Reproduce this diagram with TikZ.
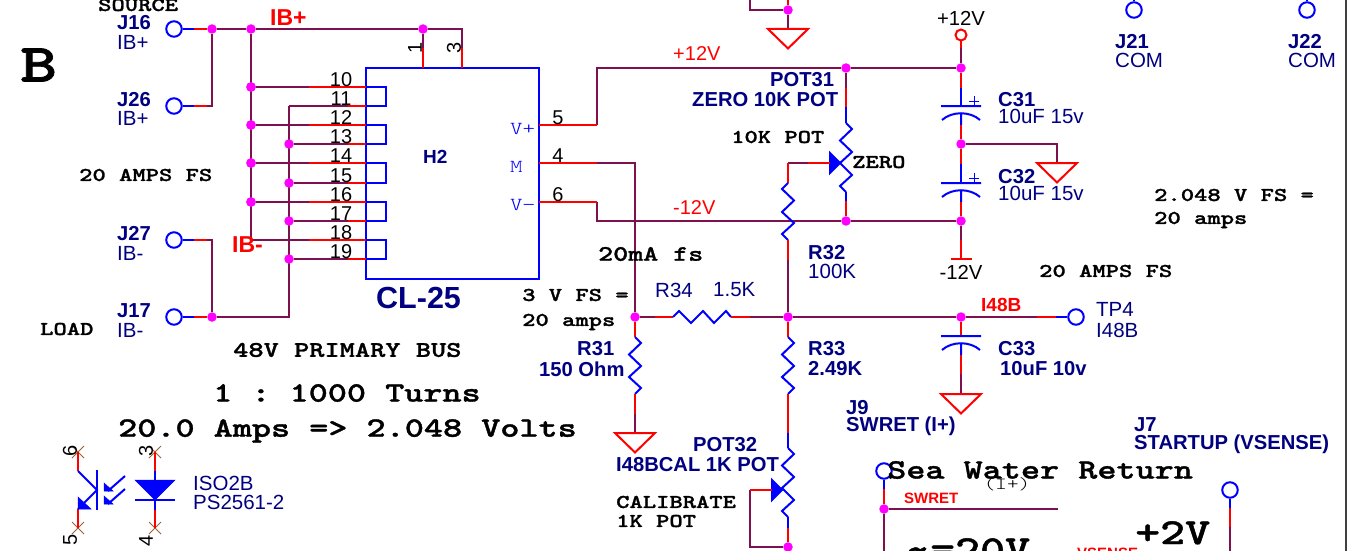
\documentclass[tikz,border=0pt]{standalone}
\usepackage{fontspec}
\setmainfont{Liberation Sans}
\newfontfamily\schmono[Extension=.otf,FakeStretch=1.3,BoldFont=lmmonolt10-bold,BoldFeatures={FakeBold=1.3}]{lmmonolt10-regular}
\usepackage{tikz}
\usetikzlibrary{shapes}

\definecolor{wirecol}{HTML}{7F1050}
\definecolor{pincol}{HTML}{FF0000}
\definecolor{bodycol}{HTML}{0000FF}
\definecolor{labelcol}{HTML}{000080}
\definecolor{dotcol}{HTML}{FF00FF}
\definecolor{xcol}{HTML}{A06030}

% symbol bodies, drawn downward from a named coordinate
\newcommand{\vres}[2]{\draw[body,shift={(#1)},xscale=#2] (0,0) -- ++(6,6) -- ++(-12,11.5) -- ++(12,11.5) -- ++(-12,11) -- ++(12,11) -- ++(-6,6);}
\newcommand{\vpot}[1]{\draw[body,shift={(#1)}] (0,0) -- ++(6,6) -- ++(-12,11.5) -- ++(12,11.5) -- ++(-12,11) -- ++(12,12) -- ++(-12,11) -- ++(6,6);}
\newcommand{\gnd}[1]{\draw[pin,shift={(#1)}] (-20,0) -- (20,0) -- (0,19.5) -- cycle;}
\newcommand{\capv}[1]{\draw[body,shift={(#1)}] (-20,0) -- (20,0) (-19,14) .. controls (-9,5) and (9,5) .. (19,14) (0,8) -- (0,19);}
\newcommand{\capplus}[1]{\draw[body,shift={(#1)},line width=1pt] (8,-5) -- (18,-5) (13,-10) -- (13,0);}

\begin{document}
\frenchspacing
\begin{tikzpicture}[x=1pt,y=-1pt]
	\tikzstyle{wire}=[draw=wirecol,line width=2pt]
	\tikzstyle{pin}=[draw=pincol,line width=2pt,line join=miter]
	\tikzstyle{body}=[draw=bodycol,line width=2pt]
	\tikzstyle{junction}=[circle,fill=dotcol,inner sep=0pt,minimum size=9.5pt]
	\tikzstyle{terminal}=[circle,draw=bodycol,line width=2pt,inner sep=0pt,minimum size=15.5pt]
	\tikzstyle{xmark}=[cross out,draw=xcol,line width=1pt,inner sep=0pt,minimum size=11pt]
	\tikzstyle{partname}=[anchor=west,inner sep=0pt,text=labelcol,font=\fontsize{20.2}{20.2}\selectfont\bfseries]
	\tikzstyle{partval}=[anchor=west,inner sep=0pt,text=labelcol,font=\fontsize{20.5}{20.5}\selectfont]
	\tikzstyle{pinnum}=[inner sep=0pt,font=\fontsize{20}{20}\selectfont]
	\tikzstyle{netname}=[anchor=west,inner sep=0pt,text=pincol,font=\fontsize{20}{20}\selectfont]
	\tikzstyle{note}=[anchor=west,inner sep=0pt,font=\fontsize{19.5}{19.5}\selectfont\schmono\bfseries]
	\tikzstyle{bignote}=[anchor=west,inner sep=0pt,font=\fontsize{28}{28}\selectfont\schmono\bfseries]
	\tikzstyle{hugenote}=[anchor=base west,inner sep=0pt,font=\fontsize{36.6}{36.6}\selectfont\schmono\bfseries]

	\useasboundingbox (0,0) rectangle (1355,551);
	\clip (0,0) rectangle (1355,551);

	\draw[draw=black!75,line width=2pt] (1345.5,0) -- (1345.5,551);

	% H2 and its connectors
	\node[draw=bodycol,line width=2pt,minimum width=173pt,minimum height=211pt,anchor=north west,inner sep=0pt,outer sep=0pt] (h2) at (366,68) {};
	\node[partname,font=\fontsize{19}{19}\selectfont\bfseries] (h2name) at (423,157) {H2};
	\node[partname,font=\fontsize{30.5}{30.5}\selectfont\bfseries] (h2type) at (376,298) {CL-25};
	\node[terminal] (j16) at (174,29) {};
	\node[terminal] (j26) at (174,106) {};
	\node[terminal] (j27) at (174,240) {};
	\node[terminal] (j17) at (174,317) {};
	\node[junction] (d16) at (212,29) {};
	\node[junction] (d17) at (212,317) {};
	\node[junction] (dtop) at (251,29) {};
	\node[junction] (d1) at (423,29) {};
	\coordinate (c3) at (462,29);
	\coordinate (p1) at (423,68);
	\coordinate (p3) at (462,68);
	\coordinate (a18) at (251,240);
	\coordinate (b11) at (289,106);

	\draw[wire] (j16) -- (d16) -- (dtop) -- (d1) -- (c3) -- (p3);
	\draw[wire] (d1) -- (p1);
	\draw[wire] (j26) -| (d16);
	\draw[wire] (j27) -| (d17);
	\draw[wire] (j17) -- (d17);
	\draw[wire] (dtop) -- (a18);
	\draw[wire] (b11) |- (d17);
	\draw[pin] (p1) -- ++(0,-20);
	\draw[pin] (p3) -- ++(0,-20);
	\foreach \t in {j16,j26,j17,j27} {
		\draw[pin] (\t.east) ++(10,0) -- ++(14,0);
		\draw[body] (\t.east) -- ++(11,0);
	}
	\node[rotate=90,pinnum] (n1) at (415,48) {1};
	\node[rotate=90,pinnum] (n3) at (454,48) {3};

	\foreach \n/\y in {10/87,12/125,14/163,16/202,18/240} {
		\coordinate (p\n) at (366,\y);
		\ifnum\n<18 \node[junction] (a\n) at (251,\y) {}; \else \coordinate (a\n) at (251,\y); \fi
		\draw[wire] (a\n) -- (p\n);
		\draw[pin] (p\n) -- ++(-57,0);
		\node[pinnum,anchor=south] (l\n) at (341,\y) {\n};
	}
	\foreach \n/\y in {11/106,13/144,15/183,17/221,19/259} {
		\coordinate (p\n) at (366,\y);
		\ifnum\n>11 \node[junction] (b\n) at (289,\y) {}; \fi
		\draw[wire] (b\n) -- (p\n);
		\draw[pin] (p\n) -- ++(-18,0);
		\node[pinnum,anchor=south] (l\n) at (341,\y) {\n};
	}
	\foreach \a/\b in {10/11,12/13,14/15,16/17,18/19} {
		\draw[body] (p\a) -- ++(20,0) |- (p\b);
	}
	\foreach \n/\y in {10/87,12/125,14/163,16/202} { \node[junction] at (251,\y) {}; }

	\node[partname] (t16) at (117,23) {J16};
	\node[partval] (v16) at (117,42) {IB+};
	\node[partname] (t26) at (117,100) {J26};
	\node[partval] (v26) at (117,118) {IB+};
	\node[partname] (t27) at (117,234) {J27};
	\node[partval] (v27) at (117,253) {IB-};
	\node[partname] (t17) at (117,311) {J17};
	\node[partval] (v17) at (117,330) {IB-};
	\node[netname,font=\fontsize{23}{23}\selectfont\bfseries] (ibp) at (270,18) {IB+};
	\node[netname,font=\fontsize{23}{23}\selectfont\bfseries] (ibm) at (232,245) {IB-};

	% H2 outputs
	\coordinate (pvp) at (539,125);
	\coordinate (pm) at (539,163);
	\coordinate (pvm) at (539,202);
	\coordinate (t5) at (597,125);
	\coordinate (t6) at (597,202);
	\node[junction] (dp) at (846,68) {};
	\node[junction] (dn) at (846,221) {};
	\node[junction] (dpw) at (961,68) {};
	\node[junction] (dnw) at (961,221) {};
	\node[junction] (dm) at (635,317) {};
	\node[junction] (dj) at (788,317) {};
	\node[junction] (dq) at (961,317) {};
	\node[junction] (dg) at (961,144) {};
	\draw[wire] (t5) |- (dp) -- (dpw);
	\draw[wire] (pm) -| (dm);
	\draw[wire] (t6) |- (dn) -- (dnw);
	\draw[pin] (pvp) -- (t5);
	\draw[pin] (pm) -- ++(58,0);
	\draw[pin] (pvm) -- (t6);
	\node[pinnum] (n5) at (558,118) {5};
	\node[pinnum] (n4) at (558,156) {4};
	\node[pinnum] (n6) at (558,195) {6};
	\foreach \nm/\s/\y in {vp/V+/129,vmid/M/167,vm/V−/205} {
		\node[anchor=west,inner sep=0pt,text=bodycol,font=\fontsize{18.3}{18.3}\selectfont\schmono] (\nm) at (510,\y) {\s};
	}
	\node[netname] (np) at (673,54) {+12V};
	\node[netname] (nm) at (673,208) {-12V};

	% POT31 and R32
	\coordinate (pot31a) at (846,123);
	\coordinate (pot31b) at (846,192);
	\coordinate (r32a) at (788,183);
	\coordinate (r32b) at (788,240);
	\coordinate (w31) at (830,163);
	\coordinate (w31c) at (788,163);
	\draw[wire] (dp) -- ++(0,20);
	\draw[pin] (dp) ++(0,20) -- ++(0,19);
	\draw[body] (dp) ++(0,39) -- (pot31a);
	\vpot{pot31a}
	\draw[pin] (pot31b) -- (dn);
	\draw[body] (pot31b) -- ++(0,9);
	\draw[fill=bodycol,body] (w31) ++(0,-10) -- ++(10,10) -- ++(-10,10) -- cycle;
	\draw[wire] (w31c) -- (w31);
	\draw[pin] (w31) -- ++(-22,0);
	\draw[pin] (w31c) -- (r32a);
	\vres{r32a}{-1}
	\draw[wire] (r32b) -- (dj);
	\draw[pin] (r32b) -- ++(0,20);

	% R34, R31, R33, POT32
	\coordinate (r34a) at (673,317);
	\coordinate (r34b) at (731,317);
	\draw[wire] (dm) -- (r34a);
	\draw[pin] (r34a) -- ++(-18,0);
	\draw[body] (r34a) -- ++(6,-6) -- ++(12,12) -- ++(12,-12) -- ++(11,12) -- ++(12,-12) -- ++(5,6);
	\draw[wire] (r34b) -- (dj);
	\draw[pin] (r34b) -- ++(19,0);
	\coordinate (r31a) at (635,337);
	\coordinate (r31b) at (635,394);
	\coordinate (g31) at (635,433);
	\draw[pin] (dm) -- (r31a);
	\vres{r31a}{1}
	\draw[wire] (r31b) -- (g31);
	\draw[pin] (r31b) -- ++(0,20);
	\gnd{g31}
	\coordinate (r33a) at (788,337);
	\coordinate (r33b) at (788,394);
	\coordinate (pot32a) at (788,448);
	\coordinate (pot32b) at (788,517);
	\coordinate (w32) at (772,490);
	\coordinate (w32c) at (750,490);
	\node[junction] (djb) at (788,547) {};
	\draw[pin] (dj) -- (r33a);
	\vres{r33a}{1}
	\draw[pin] (r33b) -- ++(0,39);
	\draw[body] (r33b) ++(0,39) -- (pot32a);
	\vpot{pot32a}
	\draw[pin] (pot32b) -- (djb);
	\draw[body] (pot32b) -- ++(0,11);
	\draw[fill=bodycol,body] (w32) ++(0,-10) -- ++(10,10) -- ++(-10,10) -- cycle;
	\draw[wire] (w32c) |- (djb);
	\draw[pin] (w32) -- (w32c);

	\node[partname] (tpot31) at (770,80) {POT31};
	\node[partname] (vpot31) at (692,100) {ZERO 10K POT};
	\node[partname] (tr32) at (808,253) {R32};
	\node[partval] (vr32) at (808,271) {100K};
	\node[partval] (tr34) at (655,290) {R34};
	\node[partval] (vr34) at (713,290) {1.5K};
	\node[partname] (tr31) at (577,349) {R31};
	\node[partname] (vr31) at (539,369) {150 Ohm};
	\node[partname] (tr33) at (808,349) {R33};
	\node[partname] (vr33) at (808,369) {2.49K};
	\node[partname] (tpot32) at (693,445) {POT32};
	\node[partname] (vpot32) at (616,465) {I48BCAL 1K POT};

	% supply and capacitors
	\node[circle,draw=pincol,line width=2pt,inner sep=0pt,minimum size=11pt] (vcc) at (961,35) {};
	\node[pinnum,font=\fontsize{20.3}{20.3}\selectfont] (vcclab) at (961,18) {+12V};
	\coordinate (c31) at (961,106);
	\coordinate (c31b) at (961,125);
	\coordinate (c32) at (961,183);
	\coordinate (c32b) at (961,202);
	\coordinate (vee) at (961,259);
	\coordinate (g32c) at (1057,163);
	\draw[wire] (vcc) -- (dpw);
	\draw[pin] (vcc.south) -- ++(0,7);
	\draw[pin] (dpw) -- (c31);
	\draw[body] (c31) -- ++(0,-18);
	\capv{c31}
	\capplus{c31}
	\draw[pin] (c31b) -- (dg);
	\draw[wire] (dg) -| (g32c);
	\gnd{g32c}
	\draw[pin] (dg) -- (c32);
	\draw[body] (c32) -- ++(0,-19);
	\capv{c32}
	\capplus{c32}
	\draw[pin] (c32b) -- (dnw);
	\draw[wire] (dnw) -- (vee);
	\draw[pin] (vee) -- ++(0,-19);
	\draw[pin] (vee) ++(-10.5,0) -- ++(21,0);
	\node[pinnum,font=\fontsize{20.3}{20.3}\selectfont] (veelab) at (961,272) {-12V};
	\node[partname] (tc31) at (998,100) {C31};
	\node[partval] (vc31) at (998,116) {10uF 15v};
	\node[partname] (tc32) at (998,177) {C32};
	\node[partval] (vc32) at (998,193) {10uF 15v};

	% I48B output
	\node[terminal] (tp4) at (1076,317) {};
	\coordinate (c33) at (961,336);
	\coordinate (c33b) at (961,355);
	\coordinate (g33) at (961,394);
	\draw[wire] (dj) -- (dq) -- (tp4);
	\draw[pin] (tp4.west) ++(-11,0) -- ++(-19,0);
	\draw[body] (tp4.west) -- ++(-11,0);
	\draw[pin] (dq) -- (c33);
	\capv{c33}
	\draw[wire] (c33b) -- (g33);
	\draw[pin] (c33b) -- ++(0,19);
	\gnd{g33}
	\node[netname,font=\fontsize{19}{19}\selectfont\bfseries] (i48) at (981,305) {I48B};
	\node[partval] (ttp4) at (1096,309) {TP4};
	\node[partval] (vtp4) at (1096,330) {I48B};
	\node[partname] (tc33) at (998,349) {C33};
	\node[partname] (vc33) at (1000,369) {10uF 10v};

	% top stub
	\node[junction] (dtt) at (788,10) {};
	\coordinate (gt) at (788,29);
	\coordinate (tt) at (788,0);
	\coordinate (tl) at (750,0);
	\draw[pin] (dtt) -- (tt);
	\draw[wire] (tl) |- (dtt);
	\draw[wire] (dtt) -- (gt);
	\gnd{gt}

	% COM pads
	\node[terminal] (j21) at (1134,10) {};
	\node[terminal] (j22) at (1307,10) {};
	\coordinate (j21t) at (1134,0);
	\coordinate (j22t) at (1307,0);
	\draw[body] (j21) -- (j21t);
	\draw[body] (j22) -- (j22t);
	\node[partname] (t21) at (1115,42) {J21};
	\node[partval] (v21) at (1115,60) {COM};
	\node[partname] (t22) at (1288,42) {J22};
	\node[partval] (v22) at (1288,60) {COM};

	% J9, J7
	\node[terminal] (j9) at (884,471) {};
	\node[junction] (dsw) at (884,509) {};
	\coordinate (swe) at (1058,509);
	\coordinate (swb) at (884,551);
	\node[terminal] (j7) at (1230,490) {};
	\coordinate (j7b) at (1230,551);
	\draw[pin] (j9) -- (dsw);
	\draw[body] (j9) -- ++(0,18);
	\draw[wire] (dsw) -- (swe);
	\draw[wire] (dsw) -- (swb);
	\draw[wire] (j7) -- (j7b);
	\draw[pin] (j7) ++(0,18) -- ++(0,19);
	\draw[body] (j7) -- ++(0,18);
	\node[partname] (tj9) at (846,408) {J9};
	\node[partname] (vj9) at (846,426) {SWRET (I+)};
	\node[partname] (tj7) at (1134,425) {J7};
	\node[partname] (vj7) at (1134,444) {STARTUP (VSENSE)};
	\node[netname,font=\fontsize{15}{15}\selectfont\bfseries] (swret) at (904,498) {SWRET};
	\node[netname,anchor=base west,font=\fontsize{15}{15}\selectfont\bfseries] (vsense) at (1077,558) {VSENSE};

	% opto
	\node[xmark] (x6) at (78,452) {};
	\node[xmark] (x5) at (78,528) {};
	\node[xmark] (x3) at (155,452) {};
	\node[xmark] (x4) at (155,528) {};
	\coordinate (ot) at (78,471);
	\coordinate (ob) at (78,509);
	\coordinate (om) at (97,490);
	\draw[pin] (x6.center) -- (ot);
	\draw[pin] (x5.center) -- (ob);
	\draw[body] (ot) -- (om) -- (ob);
	\draw[body] (97,470) -- (97,510);
	\draw[fill=bodycol,draw=bodycol,line width=0.5pt] (ob) -- ++(0,-12) -- ++(13,12) -- cycle;
	\draw[body] (125,476) -- (108,491);
	\draw[body] (125,489) -- (108,504);
	\draw[fill=bodycol,draw=bodycol,line width=0.5pt] (104,483) -- (113,491) -- (104,491) -- cycle;
	\draw[fill=bodycol,draw=bodycol,line width=0.5pt] (104,496) -- (113,504) -- (104,504) -- cycle;
	\coordinate (da) at (155,480);
	\coordinate (dk) at (155,500);
	\draw[pin] (x3.center) -- (155,471);
	\draw[body] (155,471) -- (da);
	\draw[fill=bodycol,draw=bodycol,line width=0.5pt] (135,480) -- (175,480) -- (dk) -- cycle;
	\draw[body] (135,500) -- (175,500) (dk) -- ++(0,10);
	\draw[pin] (x4.center) -- (155,510);
	\node[rotate=90,pinnum] (n6o) at (70,451) {6};
	\node[rotate=90,pinnum] (n5o) at (70,540) {5};
	\node[rotate=90,pinnum] (n3o) at (146,451) {3};
	\node[rotate=90,pinnum] (n4o) at (146,541) {4};
	\node[partval] (tiso) at (193,483) {ISO2B};
	\node[partval] (viso) at (193,502) {PS2561-2};

	% notes
	\node[note] (srclab) at (98,5) {SOURCE};
	\node[note] (fs1) at (79,175) {20 AMPS FS};
	\node[note] (loadlab) at (40,329) {LOAD};
	\node[note,font=\fontsize{22.3}{22.3}\selectfont\schmono\bfseries] (buslab) at (233,350) {48V PRIMARY BUS};
	\node[bignote] (turns) at (213,393) {1 : 1000 Turns};
	\node[bignote] (amps) at (118,431) {20.0 Amps => 2.048 Volts};
	\node[note,font=\fontsize{22}{22}\selectfont\schmono\bfseries] (fsma) at (598,254) {20mA fs};
	\node[note] (fs3a) at (522,295) {3 V FS =};
	\node[note] (fs3b) at (522,322) {20 amps};
	\node[note] (pot10k) at (731,137) {10K POT};
	\node[note] (zerolab) at (852,162) {ZERO};
	\node[note] (cal) at (616,502) {CALIBRATE};
	\node[note] (cal1k) at (616,521) {1K POT};
	\node[note] (fs2a) at (1154,195) {2.048 V FS =};
	\node[note] (fs2b) at (1154,220) {20 amps};
	\node[note] (fs4) at (1039,271) {20 AMPS FS};
	\node[bignote] (sea) at (887,470) {Sea Water Return};
	\node[inner sep=0pt,font=\fontsize{17}{17}\selectfont\schmono] (iplus) at (1007,484) {(I+)};
	\node[hugenote] (plus2) at (1135,544) {+2V};
	\node[hugenote] (neg20) at (905,561) {\char`\~=20V};
	\node[anchor=west,inner sep=0pt,font=\fontsize{54}{54}\selectfont\schmono\bfseries] (sec) at (20,65) {B};
\end{tikzpicture}
\end{document}
